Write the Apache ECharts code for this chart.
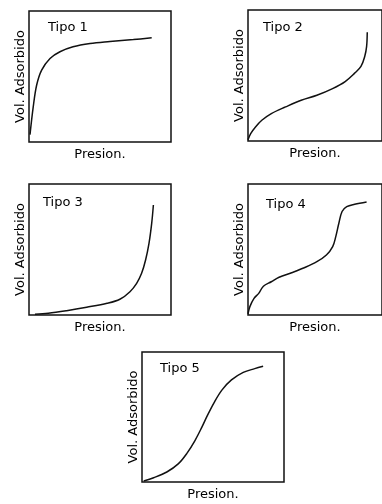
<!DOCTYPE html>
<html>
<head>
<meta charset="utf-8">
<script src="https://cdn.jsdelivr.net/npm/echarts@6/dist/echarts.min.js"></script>
<style>
html,body{margin:0;padding:0;background:#fff;}
#c{width:382px;height:504px;}
</style>
</head>
<body>
<div id="c"></div>
<script>
// Normalized curves (x: % of pressure axis, y: % of adsorbed volume axis)
const titles = ["Tipo 1", "Tipo 2", "Tipo 3", "Tipo 4", "Tipo 5"];
const xAxisLabel = "Presion.";
const yAxisLabel = "Vol. Adsorbido";

const tipo1 = [[0.7,5.6],[3,27],[5.4,43.5],[8.9,54.9],[14.8,63.8],[21.8,68.9],[31,72.7],[43,75.2],[57,76.7],[73.5,78.2],[86.4,79.5]];
const tipo2 = [[0,1],[2,5.6],[5.6,10.7],[10.3,15.8],[17.4,20.9],[28,26],[39.7,31.1],[51.4,34.9],[63.1,40],[72.5,45.4],[79.6,51.8],[84.3,56.9],[87.1,64.5],[88.5,72],[89,83]];
const tipo3 = [[4.2,0.5],[13.6,1.3],[26.5,3.3],[40.6,5.9],[55,8.9],[64,12],[71.1,17.8],[75.8,24.2],[79.3,31.8],[82.1,42],[84.5,54.7],[86.4,70],[87.6,84]];
const tipo4 = [[0,0.8],[1.4,6.4],[4.5,12.7],[8,16.5],[11.5,22],[17.4,25.4],[23.2,28.8],[32.6,32.3],[42,36.1],[51.4,40.7],[58.5,45.8],[63.2,52.2],[65.5,59.8],[67.8,70],[70.2,79],[73.7,82.7],[79.6,84.5],[88.5,86.3]];
const tipo5 = [[1.2,0.8],[8.2,3.3],[17.5,7.7],[25.7,14.1],[31.5,21.8],[37.4,32.1],[42,41.8],[46,51],[50.5,60.5],[56.1,70.5],[63,78.5],[71.3,84.3],[79.4,87.2],[85.3,89]];
const curves = [tipo1, tipo2, tipo3, tipo4, tipo5];

const grids = [
  {left: 29, top: 11, width: 142, height: 131},
  {left: 248, top: 10, width: 142, height: 131},
  {left: 29, top: 184, width: 142, height: 131},
  {left: 248, top: 184, width: 142, height: 131},
  {left: 142, top: 352, width: 142, height: 130}
];
const titlePos = [
  {left: 48, top: 21},
  {left: 263, top: 21},
  {left: 43, top: 196},
  {left: 266, top: 198},
  {left: 160, top: 362}
];

const font = "'DejaVu Sans', Verdana, sans-serif";
const chart = echarts.init(document.getElementById('c'), null, {renderer: 'canvas'});

const option = {
  animation: false,
  backgroundColor: '#fff',
  title: titles.map((t, i) => ({
    text: t, left: titlePos[i].left, top: titlePos[i].top, padding: 0,
    textStyle: {fontFamily: font, fontSize: 13, fontWeight: 'normal', color: '#000'}
  })),
  grid: grids.map(g => Object.assign({show: true, borderColor: '#111', borderWidth: 1.5, backgroundColor: 'transparent', containLabel: false}, g)),
  xAxis: grids.map((g, i) => ({
    gridIndex: i, type: 'value', min: 0, max: 100,
    axisLine: {show: false}, axisTick: {show: false}, axisLabel: {show: false}, splitLine: {show: false},
    name: xAxisLabel, nameLocation: 'middle', nameGap: 6,
    nameTextStyle: {fontFamily: font, fontSize: 13, color: '#000', verticalAlign: 'top'}
  })),
  yAxis: grids.map((g, i) => ({
    gridIndex: i, type: 'value', min: 0, max: 100,
    axisLine: {show: false}, axisTick: {show: false}, axisLabel: {show: false}, splitLine: {show: false},
    name: yAxisLabel, nameLocation: 'middle', nameGap: 2,
    nameTextStyle: {fontFamily: font, fontSize: 13, color: '#000', verticalAlign: 'bottom'}
  })),
  series: curves.map((d, i) => ({
    type: 'line', xAxisIndex: i, yAxisIndex: i, data: d,
    smooth: 0.35, showSymbol: false, symbol: 'none',
    lineStyle: {color: '#111', width: 1.5}
  }))
};
chart.setOption(option);
</script>
</body>
</html>
